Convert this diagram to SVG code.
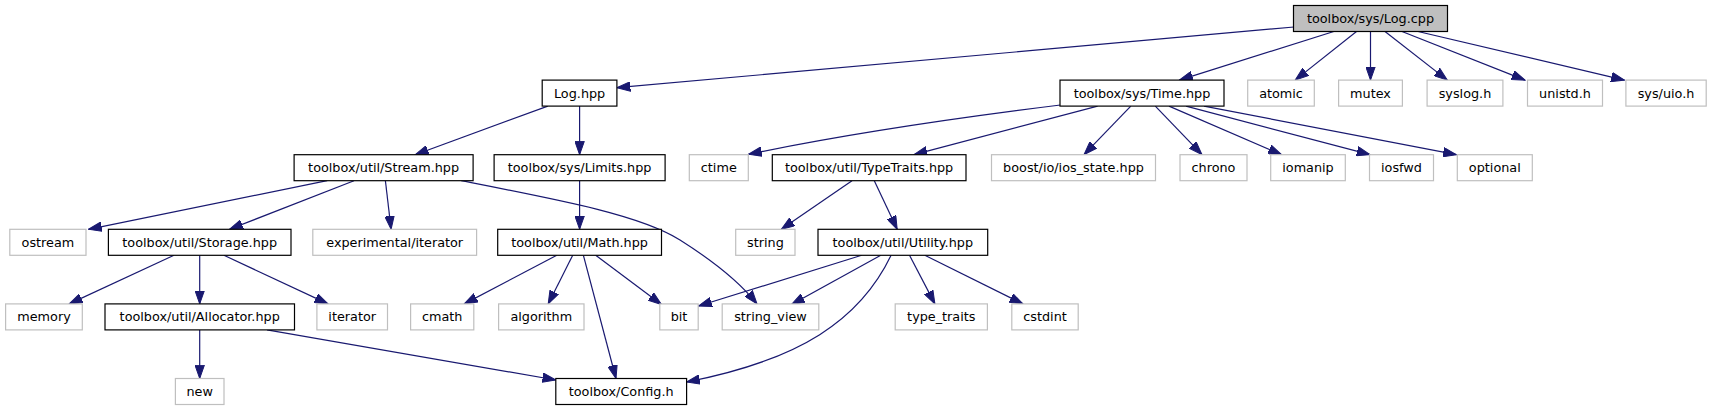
<svg xmlns="http://www.w3.org/2000/svg" width="1712" height="411" viewBox="0 0 1712 411">
<style>
rect{stroke-width:1.2}
.d rect{fill:#fff;stroke:#000}
.x rect{fill:#fff;stroke:#bfbfbf}
.r rect{fill:#bfbfbf;stroke:#000}
text{font-family:"DejaVu Sans","Liberation Sans",sans-serif;font-size:12.8px;fill:#000;text-anchor:middle}
#edges path{fill:none;stroke:#191970;stroke-width:1.2;marker-end:url(#ah)}
</style>
<defs>
<marker id="ah" markerUnits="userSpaceOnUse" markerWidth="14" markerHeight="10" viewBox="0 -5 14 10" refX="13.3" refY="0" orient="auto">
<path d="M0,-4.7 L13.3,0 L0,4.7 Z" fill="#191970" stroke="#191970" stroke-width="1"/>
</marker>
</defs>
<rect width="1712" height="411" fill="#fff"/>
<g id="edges">
<path d="M1294,27 L617,87.7"/>
<path d="M1333.8,31.5 L1179.4,80.1"/>
<path d="M1356.5,31.5 L1295.2,80.1"/>
<path d="M1370.5,31.5 L1370.5,80.1"/>
<path d="M1385,31.5 L1447.3,80.1"/>
<path d="M1402,31.5 L1525,80.1"/>
<path d="M1418,31.5 L1624.4,80.1"/>
<path d="M547.8,106.1 L415.2,154.7"/>
<path d="M579.6,106.1 L579.6,154.7"/>
<path d="M1060.4,105 Q875,128 748.5,154.3"/>
<path d="M1097.6,106.1 L914,154.7"/>
<path d="M1130.8,106.1 L1084,154.7"/>
<path d="M1155.3,106.1 L1202,154.7"/>
<path d="M1169,106.1 L1281.6,154.7"/>
<path d="M1186,106.1 L1370,154.7"/>
<path d="M1204,106.1 L1456.4,154.7"/>
<path d="M327.2,180.7 L88.5,229.3"/>
<path d="M354,180.7 L229.6,229.3"/>
<path d="M385.4,180.7 L391.1,229.3"/>
<path d="M461.2,180.7 C560,200 640,215 680,240 C718,264 742,285 757,303.9"/>
<path d="M579.6,180.7 L579.6,229.3"/>
<path d="M852,180.7 L781.3,229.3"/>
<path d="M874.3,180.7 L897.2,229.3"/>
<path d="M174,255.3 L69.2,303.9"/>
<path d="M199.7,255.3 L199.7,303.9"/>
<path d="M223.9,255.3 L328,303.9"/>
<path d="M556.8,255.3 L464.3,303.9"/>
<path d="M572.7,255.3 L548.2,303.9"/>
<path d="M583.4,255.3 L616,378.5"/>
<path d="M595.7,255.3 L661.5,304.5"/>
<path d="M199.7,329.9 L199.7,378.5"/>
<path d="M267,329.9 L555.8,380"/>
<path d="M861.7,255.3 L698.5,306"/>
<path d="M880.8,255.3 L791.5,304.5"/>
<path d="M891.1,255.3 C860,320 800,360 686.6,382"/>
<path d="M909.5,255.3 L934.9,303.9"/>
<path d="M924.8,255.3 L1022.9,303.9"/>
</g>
<g id="n_logcpp" class="r"><rect x="1293.5" y="5.5" width="154" height="26"/><text x="1370.5" y="23">toolbox/sys/Log.cpp</text></g>
<g id="n_loghpp" class="d"><rect x="542.2" y="80.1" width="74.7" height="26"/><text x="579.6" y="97.6">Log.hpp</text></g>
<g id="n_time" class="d"><rect x="1060" y="80.1" width="164" height="26"/><text x="1142" y="97.6">toolbox/sys/Time.hpp</text></g>
<g id="n_atomic" class="x"><rect x="1247.7" y="80.1" width="66.6" height="26"/><text x="1281" y="97.6">atomic</text></g>
<g id="n_mutex" class="x"><rect x="1338.6" y="80.1" width="63.8" height="26"/><text x="1370.5" y="97.6">mutex</text></g>
<g id="n_syslog" class="x"><rect x="1427.1" y="80.1" width="75.8" height="26"/><text x="1465" y="97.6">syslog.h</text></g>
<g id="n_unistd" class="x"><rect x="1527.5" y="80.1" width="75" height="26"/><text x="1565" y="97.6">unistd.h</text></g>
<g id="n_uio" class="x"><rect x="1625.9" y="80.1" width="80.3" height="26"/><text x="1666" y="97.6">sys/uio.h</text></g>
<g id="n_stream" class="d"><rect x="294.1" y="154.7" width="179" height="26"/><text x="383.6" y="172.2">toolbox/util/Stream.hpp</text></g>
<g id="n_limits" class="d"><rect x="494.1" y="154.7" width="171" height="26"/><text x="579.6" y="172.2">toolbox/sys/Limits.hpp</text></g>
<g id="n_ctime" class="x"><rect x="689.3" y="154.7" width="59" height="26"/><text x="718.8" y="172.2">ctime</text></g>
<g id="n_typetraits" class="d"><rect x="772.3" y="154.7" width="193.7" height="26"/><text x="869.1" y="172.2">toolbox/util/TypeTraits.hpp</text></g>
<g id="n_boost" class="x"><rect x="991.5" y="154.7" width="164" height="26"/><text x="1073.5" y="172.2">boost/io/ios_state.hpp</text></g>
<g id="n_chrono" class="x"><rect x="1180" y="154.7" width="67" height="26"/><text x="1213.5" y="172.2">chrono</text></g>
<g id="n_iomanip" class="x"><rect x="1270.7" y="154.7" width="74.6" height="26"/><text x="1308" y="172.2">iomanip</text></g>
<g id="n_iosfwd" class="x"><rect x="1369.5" y="154.7" width="64" height="26"/><text x="1401.5" y="172.2">iosfwd</text></g>
<g id="n_optional" class="x"><rect x="1457.3" y="154.7" width="75" height="26"/><text x="1494.8" y="172.2">optional</text></g>
<g id="n_ostream" class="x"><rect x="9.8" y="229.3" width="76.2" height="26"/><text x="47.9" y="246.8">ostream</text></g>
<g id="n_storage" class="d"><rect x="108.4" y="229.3" width="182.6" height="26"/><text x="199.7" y="246.8">toolbox/util/Storage.hpp</text></g>
<g id="n_expiter" class="x"><rect x="312.8" y="229.3" width="163.8" height="26"/><text x="394.7" y="246.8">experimental/iterator</text></g>
<g id="n_math" class="d"><rect x="497.7" y="229.3" width="163.8" height="26"/><text x="579.6" y="246.8">toolbox/util/Math.hpp</text></g>
<g id="n_string" class="x"><rect x="735.7" y="229.3" width="59.3" height="26"/><text x="765.4" y="246.8">string</text></g>
<g id="n_utility" class="d"><rect x="818" y="229.3" width="169.7" height="26"/><text x="902.8" y="246.8">toolbox/util/Utility.hpp</text></g>
<g id="n_memory" class="x"><rect x="5.6" y="303.9" width="76.7" height="26"/><text x="44" y="321.4">memory</text></g>
<g id="n_allocator" class="d"><rect x="105" y="303.9" width="189.5" height="26"/><text x="199.7" y="321.4">toolbox/util/Allocator.hpp</text></g>
<g id="n_iterator" class="x"><rect x="316.9" y="303.9" width="70.6" height="26"/><text x="352.2" y="321.4">iterator</text></g>
<g id="n_cmath" class="x"><rect x="410.6" y="303.9" width="63.2" height="26"/><text x="442.2" y="321.4">cmath</text></g>
<g id="n_algorithm" class="x"><rect x="498.6" y="303.9" width="85.4" height="26"/><text x="541.3" y="321.4">algorithm</text></g>
<g id="n_bit" class="x"><rect x="659.8" y="303.9" width="38.4" height="26"/><text x="679" y="321.4">bit</text></g>
<g id="n_stringview" class="x"><rect x="722.2" y="303.9" width="96.6" height="26"/><text x="770.5" y="321.4">string_view</text></g>
<g id="n_typetraits_std" class="x"><rect x="895.2" y="303.9" width="92.2" height="26"/><text x="941.3" y="321.4">type_traits</text></g>
<g id="n_cstdint" class="x"><rect x="1011.8" y="303.9" width="66.4" height="26"/><text x="1045" y="321.4">cstdint</text></g>
<g id="n_new" class="x"><rect x="175.4" y="378.5" width="48.6" height="26"/><text x="199.7" y="396">new</text></g>
<g id="n_config" class="d"><rect x="555.8" y="378.5" width="130.8" height="26"/><text x="621.2" y="396">toolbox/Config.h</text></g>
</svg>
